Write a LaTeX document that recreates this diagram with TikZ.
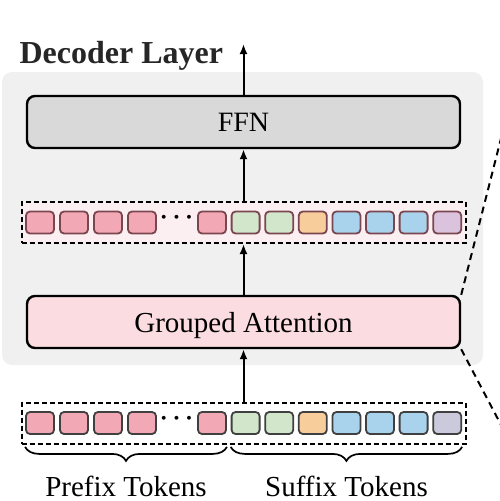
\documentclass[tikz,border=0pt]{standalone}
\usepackage{fontspec}
\setmainfont{Liberation Serif}
\usetikzlibrary{arrows.meta,decorations.pathreplacing}
\definecolor{panelgray}{HTML}{F0F0F0}
\definecolor{ffngray}{HTML}{D9D9D9}
\definecolor{attnpink}{HTML}{FADCE1}
\definecolor{rowpink}{HTML}{FCEFF1}
\definecolor{tokpink}{HTML}{F3A9B5}
\definecolor{tokgreen}{HTML}{D2E6CC}
\definecolor{tokorange}{HTML}{F8CD9C}
\definecolor{tokblue}{HTML}{A9D3EC}
\definecolor{toklilac}{HTML}{DCC3DD}
\definecolor{tokgrey}{HTML}{CBCADD}
\definecolor{rimred}{HTML}{7A4650}
\definecolor{rimgray}{HTML}{404040}
\begin{document}
\begin{tikzpicture}[x=1pt,y=-1pt]

    \tikzset{layerbox/.style={draw,line width=2.4pt,rounded corners=8pt,minimum width=433pt,minimum height=52pt,inner sep=0pt,text depth=0pt},
             rowbox/.style={draw,dash pattern=on 5pt off 3pt,line width=2pt,minimum width=444pt,minimum height=41pt,inner sep=0pt},
             tok/.style={draw,line width=1.8pt,rounded corners=4pt,minimum width=28pt,minimum height=22pt,inner sep=0pt},
             txt/.style={font=\fontsize{29}{29}\selectfont},
             dotstyle/.style={font=\fontsize{36}{36}\selectfont\boldmath},
             brace/.style={decorate,decoration={brace,mirror,amplitude=14pt},line width=1.7pt},
             zoomline/.style={line width=2pt,dash pattern=on 7pt off 5pt}}

    \clip (0,0) rectangle (500,501);
    \fill[panelgray,rounded corners=10pt] (2,72) rectangle (483,365);

    \node[anchor=base west,font=\bfseries\fontsize{32}{32}\selectfont,text=black!85] (title) at (16,63) {Decoder Layer};
    \node[layerbox,fill=ffngray,font=\fontsize{28}{28}\selectfont] (ffn) at (243.5,122) {FFN};
    \node[layerbox,fill=attnpink,txt] (ga) at (243.5,322) {Grouped Attention};
    \coordinate (out) at (243.5,44);

    % hidden states
    \node[rowbox,fill=rowpink] (row1) at (243.5,222.5) {};
    \foreach \x/\c [count=\i] in {40/tokpink,74/tokpink,108/tokpink,142/tokpink,212/tokpink,245.6/tokgreen,279.2/tokgreen,312.8/tokorange,346.4/tokblue,380/tokblue,413.6/tokblue,447.2/toklilac}
        \node[tok,draw=rimred,fill=\c] (a\i) at (\x,222.5) {};
    \node[dotstyle] (dots1) at (176.5,218) {$\cdots$};

    % input tokens
    \node[rowbox,fill=white] (row2) at (243.5,423) {};
    \foreach \x/\c [count=\i] in {40/tokpink,74/tokpink,108/tokpink,142/tokpink,212/tokpink,245.6/tokgreen,279.2/tokgreen,312.8/tokorange,346.4/tokblue,380/tokblue,413.6/tokblue,447.2/tokgrey}
        \node[tok,draw=rimgray,fill=\c] (b\i) at (\x,423) {};
    \node[dotstyle] (dots2) at (176.5,418.5) {$\cdots$};

    \draw[brace] ([yshift=-12pt]b1.south west) -- ([yshift=-12pt]b5.south east);
    \draw[brace] ([yshift=-12pt]b6.south west) -- ([yshift=-12pt]b12.south east);
    \node[txt,anchor=base] (prefix) at (126,496) {Prefix Tokens};
    \node[txt,anchor=base] (suffix) at (346.5,496) {Suffix Tokens};

    \begin{scope}[every path/.style={-{Latex[length=10pt,width=8pt]},line width=2pt}]
        \draw (ffn.north) -- (out);
        \draw (row1.north) -- (ffn.south);
        \draw (ga.north) -- (row1.south);
        \draw (row2.north) -- (ga.south);
    \end{scope}

    \coordinate (zu) at (507,115);
    \coordinate (zl) at (510,442);
    \draw[zoomline] (ga.north east) -- (zu);
    \draw[zoomline] (ga.south east) -- (zl);
\end{tikzpicture}
\end{document}
